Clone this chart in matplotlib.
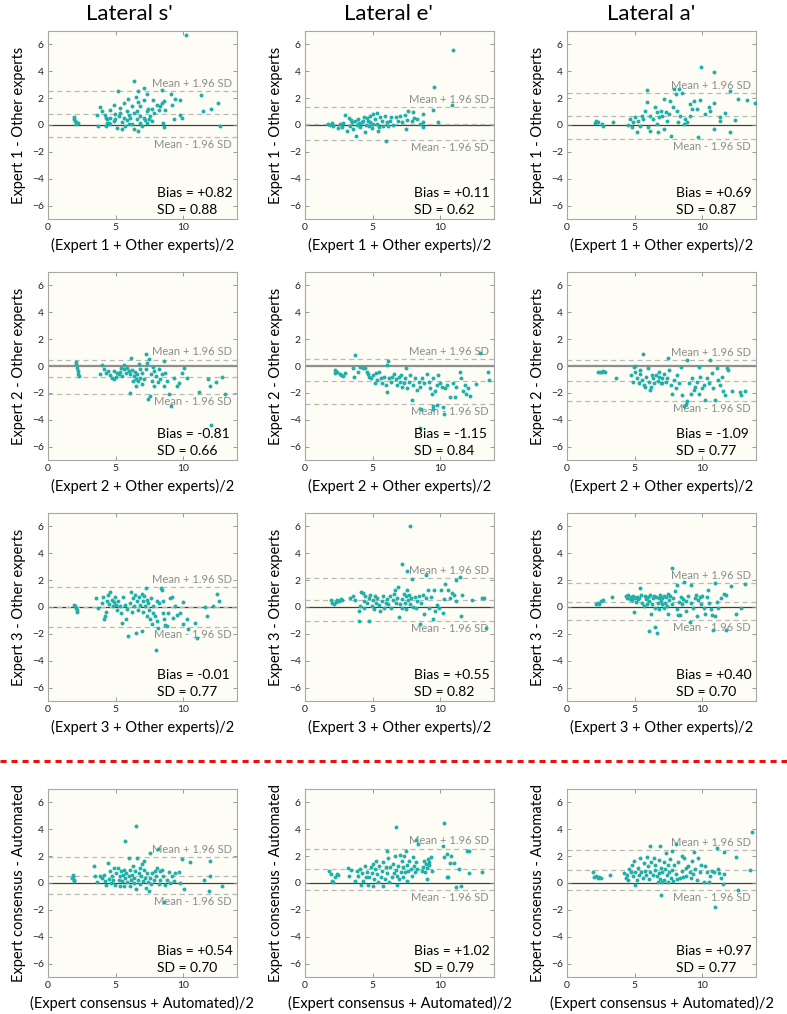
import numpy as np
import matplotlib
matplotlib.use("Agg")
import matplotlib.pyplot as plt
from matplotlib.lines import Line2D

plt.rcParams['font.family'] = ['Lato', 'DejaVu Sans']

# column / row labels
col_titles = ["Lateral s'", "Lateral e'", "Lateral a'"]
row_names = ["Expert 1", "Expert 2", "Expert 3", "Expert consensus"]
row_refs = ["Other experts", "Other experts", "Other experts", "Automated"]

# bias and SD per panel (rows x cols)
bias = [[0.82, 0.11, 0.69],
        [-0.81, -1.15, -1.09],
        [-0.01, 0.55, 0.40],
        [0.54, 1.02, 0.97]]
sdev = [[0.88, 0.62, 0.87],
        [0.66, 0.84, 0.77],
        [0.77, 0.82, 0.70],
        [0.70, 0.79, 0.77]]

# (mean, difference) points
e1_s = [(10.25, 6.68), (1.9, 0.6), (1.95, 0.45), (2.0, 0.3), (2.05, 0.1), (2.1, 0.2), (2.2, 0.15),
        (6.35, 3.29), (5.16, 2.55), (6.69, 2.55), (7.09, 2.75), (8.44, 2.57), (9.11, 2.33), (9.43, 1.96),
        (9.8, 1.84), (9.19, 1.51), (11.33, 2.23), (11.48, 1.02), (12.07, 1.2), (12.57, 1.61), (12.77, -0.11),
        (9.93, 0.53), (9.8, 0.78), (9.31, 0.41), (8.57, -0.16), (8.52, 0.16), (5.95, 1.93), (6.54, 2.1),
        (7.33, 2.28), (7.75, 1.88), (7.73, 1.2), (7.83, 0.9), (8.2, 1.15), (8.32, 1.39), (8.44, 1.64),
        (8.57, 1.76), (8.69, 1.15), (8.07, 1.51), (7.43, 1.2), (6.84, 1.39), (7.14, 1.88), (6.22, 1.44),
        (6.59, 1.02), (3.88, 1.34), (3.63, 0.78), (3.68, -0.04), (4.0, 1.02), (4.25, 0.78), (4.37, 0.41),
        (4.49, 0.16), (4.62, 0.53), (4.86, 0.28), (4.99, 0.85), (5.23, 0.65), (5.36, 0.9), (5.48, 0.21),
        (5.6, 0.53), (5.73, -0.09), (5.85, 0.36), (5.98, 0.78), (6.1, 0.53), (6.22, 0.11), (6.35, -0.28),
        (6.59, 0.41), (6.64, -0.46), (6.79, 0.65), (6.84, 0.16), (6.96, -0.09), (7.09, 0.53), (7.21, 0.36),
        (7.33, 0.16), (7.46, 0.41), (7.58, 0.65), (7.7, 0.28), (4.86, 1.51), (5.31, 1.27), (5.65, 1.64),
        (5.85, 1.02), (4.62, 1.14), (4.32, 0.53), (5.11, -0.21), (5.51, -0.28), (5.98, 0.04), (4.37, 0.16),
        (4.27, -0.04), (4.62, 0.11), (4.99, 0.41), (6.4, 0.9), (6.64, 1.69), (7.33, 1.02)]

e1_e = [(10.99, 5.55), (9.56, 2.81), (9.46, 1.12), (10.86, 1.52), (9.88, 0.2), (8.72, 0.25), (8.77, 0.82),
        (8.77, -0.12), (7.98, 0.95), (8.07, 0.52), (7.9, 0.27), (7.41, 0.77), (7.53, 0.37), (7.65, 1.02),
        (7.48, -0.3), (7.04, 0.7), (6.91, 0.27), (6.74, 0.57), (6.54, 0.02), (6.3, 0.32), (6.17, -0.05),
        (6.0, -1.17), (5.36, 0.9), (5.56, 0.62), (5.68, 0.32), (5.8, -0.05), (5.19, 0.45), (5.06, 0.07),
        (4.94, -0.22), (4.81, 0.7), (4.69, 0.32), (4.52, 0.02), (4.44, -0.55), (4.37, 0.57), (4.2, 0.2),
        (4.07, -0.17), (3.95, 0.45), (3.83, 0.02), (3.78, -0.8), (3.7, 0.32), (3.58, -0.3), (3.46, 0.2),
        (3.33, -0.05), (3.23, 0.52), (3.14, -0.42), (2.96, 0.77), (2.84, 0.12), (2.72, -0.12), (2.59, 0.07),
        (2.47, -0.22), (2.05, -0.05), (1.85, 0.02), (1.73, 0.07), (1.98, 0.12), (5.31, 0.07), (5.43, -0.42),
        (5.93, 0.7), (6.35, 0.62), (4.81, 0.2), (4.57, 0.52), (4.27, 0.32), (5.06, 0.82), (6.05, 0.2),
        (7.16, 0.2), (8.27, 0.45), (8.52, 0.07), (3.38, 0.37), (4.02, 0.12), (5.51, -0.17), (4.77, -0.05)]

e1_a = [(9.95, 4.3), (10.92, 3.98), (12.11, 2.56), (12.66, 1.94), (13.3, 1.87), (13.9, 1.62), (12.48, 0.4),
        (12.11, -0.55), (11.74, 0.87), (11.36, 0.62), (11.36, 0.32), (10.87, 1.62), (10.5, 1.37), (10.25, 0.82),
        (10.62, 1.07), (10.87, -0.3), (9.7, -0.92), (9.63, 1.19), (9.83, 1.87), (9.43, 1.82), (9.26, 1.19),
        (9.13, 0.7), (8.88, 0.2), (8.64, 0.07), (8.51, 2.36), (8.26, 2.69), (7.89, 2.69), (8.09, 2.31),
        (8.39, 0.7), (8.19, 0.2), (7.84, 1.32), (7.69, -0.8), (7.52, 0.82), (7.39, 0.32), (7.2, 1.94),
        (7.15, -0.3), (6.95, 1.07), (6.85, 0.57), (6.65, 0.07), (6.53, 1.32), (6.4, 0.45), (6.15, 0.7),
        (6.03, -0.12), (5.91, 2.61), (5.96, 1.69), (5.78, 1.07), (5.66, 0.45), (5.53, 0.7), (5.41, -0.05),
        (5.29, 0.32), (5.16, -0.55), (5.04, 0.57), (4.91, 0.2), (4.79, -0.17), (4.67, 0.45), (4.54, 0.02),
        (3.42, 0.2), (2.63, -0.05), (2.56, 0.07), (2.31, 0.2), (2.18, 0.27), (2.06, 0.12), (8.76, 0.45),
        (9.13, 1.57), (6.65, 0.95), (7.02, 0.7), (7.34, 0.95), (7.64, 1.82), (8.14, 1.07), (6.15, -0.42),
        (6.77, -0.55)]

e2_s = [(2.1, 0.3), (2.1, 0.12), (2.15, -0.12), (2.2, -0.37), (2.25, -0.62), (2.29, -0.75), (4.0, 0.05),
        (3.83, -0.62), (4.12, -0.25), (4.32, -0.55), (4.42, -0.37), (4.62, -0.7), (4.74, -0.87), (4.91, -1.0),
        (5.06, -0.8), (5.23, -0.62), (5.36, -0.45), (5.48, -0.75), (5.6, -0.25), (5.65, 0.05), (5.8, -0.55),
        (5.98, -0.37), (6.1, -0.62), (6.22, -0.3), (6.35, -0.75), (6.47, -0.45), (6.59, -0.62), (6.72, 0.12),
        (6.05, -2.0), (6.15, 0.57), (6.49, -1.5), (6.64, -1.12), (6.79, -0.87), (6.96, -0.55), (7.09, -0.95),
        (7.23, 0.9), (7.33, 0.25), (7.46, 0.5), (7.38, -2.45), (7.53, -2.25), (7.63, -0.62), (7.7, -1.12),
        (7.83, -1.5), (7.88, -0.37), (8.02, -0.75), (8.12, -1.2), (8.27, -1.0), (8.44, -0.62), (8.57, -1.5),
        (8.62, 0.37), (8.69, -0.5), (8.81, -1.12), (8.94, -2.12), (9.11, -3.0), (9.31, -0.87), (9.56, -1.5),
        (9.68, -1.25), (9.93, -0.5), (10.1, -0.12), (10.3, -0.87), (11.16, -1.95), (11.83, -0.95),
        (11.98, -1.5), (12.07, -4.37), (12.47, -1.2), (12.89, -0.82), (13.14, -2.05), (6.96, -1.37),
        (5.85, -0.12), (5.11, -0.5), (7.28, -0.25), (8.2, -0.25), (7.78, -0.05), (6.54, -0.95), (6.3, -1.12),
        (6.84, -0.25), (5.41, -0.17), (4.86, -0.37)]

e2_e = [(3.73, 0.82), (6.15, 0.37), (6.1, 0.07), (2.2, -0.3), (2.25, -0.55), (2.4, -0.42), (2.56, -0.62),
        (2.68, -0.67), (2.8, -0.72), (2.93, -0.55), (3.54, -0.12), (3.66, -0.8), (3.9, -0.42), (4.1, -0.05),
        (4.27, -0.17), (4.44, -0.12), (4.59, -0.42), (4.76, -0.8), (4.63, -0.62), (4.88, -0.92), (5.0, -0.67),
        (5.17, -1.3), (5.24, -0.55), (5.37, -1.05), (5.49, -0.42), (5.61, -0.92), (5.73, -1.3), (5.85, -0.8),
        (5.98, -1.42), (6.1, -1.92), (6.22, -0.87), (6.34, -1.17), (6.46, -0.8), (6.59, -0.62), (6.71, -0.97),
        (6.83, -1.42), (6.95, -0.8), (7.07, -1.17), (7.12, -0.67), (7.2, -1.55), (7.32, -1.3), (7.44, -0.92),
        (7.51, -0.12), (7.56, -1.67), (7.68, -1.17), (7.8, -0.67), (7.93, -2.55), (8.0, -1.42), (8.17, -0.92),
        (8.29, -1.8), (8.41, -1.17), (8.54, -1.55), (8.59, -3.17), (8.66, -0.92), (8.78, -1.3), (9.02, -0.62),
        (9.15, -1.17), (9.27, -1.67), (9.39, -2.05), (9.46, -2.97), (9.51, -0.92), (9.63, -1.87), (9.76, -1.42),
        (9.8, -2.92), (9.88, -0.67), (10.0, -1.3), (10.12, -1.55), (10.24, -3.05), (10.29, -3.55),
        (10.37, -1.67), (10.49, -1.42), (10.73, -2.3), (10.98, -1.3), (11.1, -2.3), (11.22, -1.55),
        (11.46, -0.47), (11.59, -0.92), (11.71, -1.87), (11.83, -1.42), (11.95, -2.12), (12.07, -1.67),
        (12.2, -2.25), (12.68, -1.37), (13.54, -0.47), (13.61, -1.05), (12.93, 0.95), (8.49, -4.62),
        (9.51, -3.17)]

e2_a = [(2.32, -0.47), (2.44, -0.42), (2.56, -0.42), (2.68, -0.37), (2.8, -0.47), (3.61, -0.87), (5.66, 0.87),
        (4.93, -0.05), (5.07, 0.0), (4.76, -0.67), (4.88, -1.17), (5.0, -0.47), (5.17, -0.92), (5.32, -1.3),
        (5.41, -0.62), (5.56, -1.05), (5.73, -1.42), (5.85, -0.8), (5.98, -0.17), (6.05, -1.17), (6.15, -1.8),
        (6.22, -1.55), (6.34, -0.92), (6.46, -1.3), (6.59, -0.67), (6.71, -1.12), (6.83, -0.8), (6.95, -1.3),
        (7.07, -0.92), (7.2, -0.62), (7.32, -1.17), (7.44, -0.92), (7.51, 0.57), (7.56, -0.3), (7.68, -1.42),
        (7.8, -2.05), (7.93, -1.05), (8.05, -1.67), (8.17, -0.67), (8.29, -1.3), (8.41, -0.05), (8.54, -2.17),
        (8.66, -2.97), (8.78, -2.8), (8.9, -2.62), (8.9, 0.45), (9.02, -1.3), (9.15, -2.12), (9.27, -0.92),
        (9.39, -1.8), (9.51, -1.55), (9.63, -1.17), (9.76, -2.05), (9.8, -0.05), (9.88, -0.8), (10.0, -1.67),
        (10.12, -1.42), (10.24, -2.55), (10.37, -0.92), (10.49, -1.3), (10.61, 0.45), (10.73, -0.55),
        (10.85, -1.67), (10.98, -2.55), (11.1, -0.17), (11.22, -1.05), (11.34, -1.42), (11.46, -0.8),
        (11.59, -1.87), (11.71, -2.17), (11.83, -0.17), (11.95, -0.3), (12.2, -1.87), (12.8, -1.97),
        (12.88, -2.17), (13.17, -1.87), (5.8, -1.55), (6.29, -0.67), (7.07, -1.3), (6.78, -0.47), (5.41, -0.3)]

e3_s = [(1.93, 0.17), (2.0, 0.1), (2.07, -0.07), (2.12, -0.25), (2.17, -0.39), (3.56, 0.66), (3.73, -0.07),
        (3.98, 0.29), (4.1, 0.74), (4.15, -0.93), (4.22, -0.69), (4.3, -0.39), (4.35, 0.42), (4.47, 0.91),
        (4.54, 0.25), (4.59, 1.08), (4.72, 0.54), (4.79, 0.05), (4.89, 0.34), (4.96, 0.78), (5.04, 0.17),
        (5.14, -0.2), (5.21, 0.42), (5.33, 0.05), (5.38, -0.44), (5.46, -1.18), (5.58, 0.78), (5.7, 0.17),
        (5.78, -0.93), (5.88, -0.15), (5.95, -2.16), (6.07, 0.29), (6.12, 1.08), (6.2, -0.39), (6.27, 0.66),
        (6.37, 0.05), (6.44, 0.91), (6.52, -1.91), (6.57, 0.42), (6.69, -0.2), (6.77, 0.74), (6.81, 0.17),
        (6.94, 0.98), (6.94, -1.79), (7.01, 0.42), (7.06, -0.39), (7.11, 0.83), (7.19, 0.05), (7.26, 1.4),
        (7.31, -0.69), (7.36, 0.54), (7.43, 0.29), (7.51, -0.2), (7.56, -0.93), (7.6, 0.66), (7.68, -1.3),
        (7.75, 0.1), (7.8, -0.44), (7.93, -0.69), (8.0, -3.19), (8.05, 0.42), (8.1, -1.05), (8.17, -1.54),
        (8.25, 0.29), (8.35, 1.4), (8.42, 1.27), (8.49, -0.44), (8.54, 0.42), (8.59, -0.93), (8.67, -1.37),
        (8.79, -1.42), (8.91, -0.44), (9.04, 0.66), (9.16, 0.74), (9.28, -0.81), (9.41, 0.05), (9.53, -0.56),
        (9.78, -0.44), (9.98, -1.3), (10.02, 0.34), (10.27, -0.93), (10.4, -1.62), (10.89, -1.18),
        (11.06, -2.28), (11.63, 0.0), (11.75, -0.69), (12.2, 0.1), (12.54, 0.98), (12.69, 0.42)]

e3_e = [(7.76, 6.03), (7.22, 3.19), (7.56, 2.65), (7.95, 2.11), (8.93, 2.4), (11.17, 2.03), (11.49, 2.21),
        (1.9, 0.49), (2.02, 0.32), (2.15, 0.2), (2.27, 0.39), (2.39, 0.49), (2.51, 0.44), (2.63, 0.56),
        (2.76, 0.49), (3.37, 0.64), (3.56, 0.81), (3.73, 0.49), (3.98, -0.29), (3.98, -1.03), (4.05, 0.07),
        (4.15, 1.13), (4.29, 1.05), (4.34, 0.44), (4.39, -0.05), (4.46, 0.81), (4.59, 0.32), (4.71, -1.03),
        (4.71, 0.64), (4.83, 0.88), (4.95, 0.07), (5.02, 0.49), (5.12, -0.17), (5.2, 0.81), (5.27, 0.32),
        (5.37, 0.69), (5.51, 0.15), (5.56, -0.29), (5.68, 0.44), (5.76, 0.81), (5.85, -0.05), (6.0, 0.32),
        (6.1, 0.56), (6.17, 0.2), (6.29, 0.81), (6.34, -0.05), (6.49, 0.49), (6.59, 0.98), (6.66, 1.3),
        (6.73, 0.32), (6.83, 0.69), (6.9, 1.47), (6.98, -0.74), (7.02, 0.2), (7.15, -0.05), (7.22, 0.56),
        (7.32, 0.98), (7.39, 0.32), (7.46, 0.81), (7.51, -0.17), (7.56, 1.23), (7.63, 0.49), (7.71, 0.93),
        (7.8, 0.2), (7.88, 0.64), (8.0, 0.0), (8.12, 0.74), (8.24, -0.05), (8.29, 0.44), (8.44, 0.81),
        (8.54, -1.23), (8.61, 0.32), (8.73, 0.88), (8.85, -0.54), (8.98, 0.64), (9.1, 1.3), (9.22, -0.05),
        (9.34, 0.74), (9.46, -0.91), (9.59, 1.3), (9.66, -0.29), (9.76, 0.15), (9.9, -0.05), (10.07, 1.23),
        (10.2, -0.42), (10.32, 0.56), (10.39, 1.72), (10.56, 1.3), (10.73, 0.69), (10.88, 1.05), (11.05, 0.88),
        (11.17, 0.44), (11.54, -0.66), (11.61, 0.88), (12.34, 0.49), (13.12, 0.64), (13.24, 0.69),
        (13.41, -1.57)]

e3_a = [(2.15, 0.2), (2.27, 0.32), (2.39, 0.25), (2.51, 0.42), (2.63, 0.49), (3.32, 0.74), (4.34, 0.81),
        (4.46, 0.64), (4.54, 0.88), (4.63, 0.56), (4.71, 0.74), (4.78, 0.49), (4.88, 0.81), (4.95, -0.34),
        (5.02, 0.64), (5.12, 0.39), (5.2, 0.74), (5.27, 0.56), (5.37, 0.69), (5.44, 1.42), (5.51, 0.88),
        (5.56, 0.32), (5.68, 0.07), (5.76, 0.81), (5.85, 0.56), (5.93, 0.2), (6.0, 0.74), (6.05, -1.81),
        (6.1, 0.44), (6.17, 0.88), (6.24, -0.49), (6.29, 0.2), (6.34, 0.64), (6.41, 0.81), (6.49, -1.47),
        (6.54, -0.05), (6.59, 0.74), (6.66, -1.96), (6.73, 0.32), (6.78, 0.69), (6.83, -0.17), (6.9, 0.88),
        (6.98, 0.44), (7.02, 0.64), (7.07, 0.2), (7.15, 0.81), (7.22, -0.05), (7.27, 0.32), (7.32, 0.74),
        (7.39, 0.07), (7.46, 0.98), (7.51, -0.54), (7.56, 0.49), (7.63, 0.81), (7.76, 2.89), (7.8, 0.2),
        (7.88, 0.64), (8.0, 1.18), (8.12, 1.62), (8.12, -0.17), (8.2, -0.59), (8.29, 0.39), (8.37, -0.59),
        (8.44, 0.74), (8.54, 0.2), (8.61, 0.56), (8.68, 1.86), (8.78, -0.29), (8.85, 0.44), (8.93, 0.81),
        (9.1, -1.15), (9.17, 1.62), (9.22, 0.32), (9.34, -0.05), (9.46, 0.69), (9.59, 0.88), (9.66, -0.66),
        (9.71, 0.49), (9.83, 0.74), (9.9, 0.2), (10.0, 0.81), (10.15, -0.05), (10.24, -0.49), (10.39, 0.74),
        (10.44, 1.23), (10.49, 0.32), (10.63, -0.17), (10.73, -0.59), (10.8, -1.72), (10.93, 1.79),
        (10.98, -0.66), (11.12, 0.39), (11.22, -0.05), (11.41, 0.64), (11.66, 0.98), (11.78, 0.88),
        (11.78, -1.72), (12.15, 1.54), (12.51, -0.54), (12.88, -0.05), (13.17, 1.72)]

au_s = [(6.54, 4.22), (5.73, 3.14), (1.85, 0.63), (1.85, 0.45), (1.9, 0.25), (1.95, 0.13), (1.78, 0.38),
        (3.43, 1.26), (3.51, 0.55), (3.63, 0.05), (3.83, 0.5), (4.0, 0.38), (4.17, 0.63), (4.25, 0.13),
        (4.32, -0.13), (4.42, 1.46), (4.49, 0.3), (4.57, 0.88), (4.67, 0.0), (4.74, 0.55), (4.81, 0.25),
        (4.91, 1.13), (4.99, -0.13), (5.06, 0.75), (5.16, 1.13), (5.23, 0.25), (5.31, 0.5), (5.36, -0.2),
        (5.41, 0.88), (5.48, 0.13), (5.56, 0.63), (5.6, 1.0), (5.65, -0.25), (5.73, 0.38), (5.8, 0.75),
        (5.85, 0.05), (5.98, 1.88), (5.98, 0.5), (6.05, -0.2), (6.1, 0.95), (6.15, 0.25), (6.22, 0.63),
        (6.3, 1.26), (6.35, 0.0), (6.4, 0.38), (6.47, 0.88), (6.54, -0.45), (6.59, 1.88), (6.64, 0.25),
        (6.72, 0.75), (6.79, 1.13), (6.84, -0.05), (6.89, 0.55), (6.96, 1.38), (7.04, 0.13), (7.09, 1.0),
        (7.14, 1.63), (7.21, 0.38), (7.28, -0.38), (7.33, 0.75), (7.41, 0.05), (7.46, -0.63), (7.53, 2.26),
        (7.58, 0.38), (7.63, -0.05), (7.7, 0.75), (7.83, 0.25), (7.95, 0.88), (8.02, 0.55), (8.07, 1.13),
        (8.12, 2.56), (8.2, -0.05), (8.27, 0.88), (8.32, 0.25), (8.44, 1.0), (8.52, 0.5), (8.57, -1.38),
        (8.69, -0.13), (8.81, 0.25), (8.94, 0.8), (9.06, 0.0), (9.19, 0.55), (9.31, 0.13), (9.43, 0.75),
        (9.68, 0.8), (9.8, 0.0), (9.93, 1.81), (10.05, -0.45), (10.54, 1.56), (11.58, 0.25), (11.9, -0.63),
        (11.98, 1.63), (12.02, 0.5), (12.89, -0.25)]

au_e = [(6.74, 4.2), (10.3, 4.45), (8.22, 3.21), (8.4, 2.91), (6.05, 2.41), (10.2, 2.79), (12.02, 2.41),
        (12.17, 2.41), (12.17, 0.72), (13.09, 0.8), (10.49, 2.16), (10.79, 2.04), (10.3, 1.92), (10.74, 1.47),
        (11.04, 1.47), (11.43, 1.04), (11.19, -0.32), (11.53, -0.22), (10.54, 0.42), (10.62, 0.47),
        (1.8, 0.87), (1.9, 0.67), (1.98, 0.12), (2.1, 0.05), (2.22, 0.47), (2.35, 0.67), (2.47, 0.62),
        (3.21, 1.12), (3.28, 0.55), (3.38, 0.97), (3.7, 0.17), (3.83, 0.87), (3.95, 0.55), (4.07, 1.04),
        (4.12, -0.12), (4.2, 0.72), (4.32, 0.17), (4.44, 1.29), (4.52, 0.47), (4.62, 0.8), (4.69, -0.12),
        (4.77, 0.42), (4.86, 1.17), (4.94, 0.72), (5.01, 1.42), (5.06, -0.2), (5.11, 0.3), (5.19, 1.04),
        (5.26, 1.67), (5.36, 0.67), (5.43, 0.05), (5.51, 1.29), (5.6, 0.42), (5.68, 0.92), (5.75, -0.2),
        (5.8, 1.54), (5.93, 0.3), (6.0, 1.17), (6.1, 0.72), (6.17, 1.87), (6.25, 0.05), (6.3, 1.17),
        (6.42, 0.47), (6.49, 1.42), (6.59, 0.72), (6.67, 2.04), (6.74, 0.97), (6.79, -0.12), (6.84, 0.55),
        (6.91, 1.29), (6.99, 0.3), (7.04, 2.11), (7.09, 0.8), (7.16, 1.67), (7.23, 1.17), (7.28, 0.42),
        (7.33, 2.04), (7.41, 0.8), (7.48, 2.41), (7.53, 1.37), (7.58, 0.17), (7.65, 0.92), (7.73, 1.67),
        (7.83, 1.04), (7.9, 0.55), (7.98, 1.92), (8.07, 1.29), (8.15, 0.8), (8.22, 1.54), (8.32, 1.04),
        (8.64, 0.92), (8.72, 1.17), (8.81, 1.67), (8.89, 0.8), (8.96, 1.42), (9.01, 0.3), (9.06, 1.12),
        (9.14, 1.79), (9.21, 1.37), (9.31, 1.92), (9.38, 0.87), (9.21, 1.54)]

au_a = [(13.73, 3.8), (11.12, 2.62), (11.66, 2.33), (12.51, 1.96), (13.56, 0.98), (12.63, -0.49),
        (10.93, -1.79), (6.93, -0.91), (6.17, 2.75), (6.9, 2.75), (8.05, 2.87), (1.9, 0.8), (2.02, 0.42),
        (2.15, 0.49), (2.27, 0.37), (2.39, 0.42), (2.51, 0.37), (3.17, 0.61), (4.22, 0.74), (4.34, 0.37),
        (4.46, 0.61), (4.54, 0.25), (4.59, 1.05), (4.71, 0.81), (4.78, 1.35), (4.88, 0.49), (4.95, 1.64),
        (5.02, -0.17), (5.07, 0.81), (5.2, 0.25), (5.27, 1.15), (5.37, 0.61), (5.44, 1.89), (5.51, 0.81),
        (5.61, 0.37), (5.68, 1.47), (5.76, 0.91), (5.85, 0.61), (5.93, 1.96), (6.0, 1.23), (6.1, 0.32),
        (6.17, 0.81), (6.24, 1.59), (6.34, 0.61), (6.41, 1.89), (6.49, 0.98), (6.54, 1.35), (6.66, 0.49),
        (6.73, 0.07), (6.78, 1.72), (6.83, 0.74), (6.9, 0.32), (6.98, 1.15), (7.02, 0.07), (7.07, 0.81),
        (7.15, 1.59), (7.22, 0.25), (7.27, 1.05), (7.32, 2.21), (7.39, 0.56), (7.46, 0.07), (7.51, 1.35),
        (7.56, 0.81), (7.63, 1.79), (7.71, 0.37), (7.76, 2.38), (7.8, 0.98), (7.88, 0.12), (7.95, 1.35),
        (8.05, 0.66), (8.12, 0.32), (8.2, 1.54), (8.37, 0.37), (8.49, 2.03), (8.54, 0.91), (8.61, 0.42),
        (8.68, 1.84), (8.78, 1.15), (8.85, 0.49), (8.98, 1.3), (9.1, 0.81), (9.17, 0.37), (9.27, 1.64),
        (9.34, 0.66), (9.41, 2.33), (9.51, 1.05), (9.66, 0.25), (9.71, 1.89), (9.83, 0.81), (9.95, 1.35),
        (10.15, 0.07), (10.24, 1.3), (10.39, 0.81), (10.49, 0.07), (10.56, 0.49), (10.73, 0.91),
        (10.88, 0.81), (11.17, 1.05), (11.29, 0.74), (11.41, 0.37), (11.54, -0.07), (11.61, 0.66)]

panels = [[e1_s, e1_e, e1_a],
          [e2_s, e2_e, e2_a],
          [e3_s, e3_e, e3_a],
          [au_s, au_e, au_a]]

# layout in pixels of the reference
W, H = 787, 1014
col_left = [48, 305, 567]
row_top = [31, 272, 513, 789]
AW, AH = 189, 188
title_x = [129, 388, 651]

fig = plt.figure(figsize=(W / 100, H / 100), dpi=100)

dot_color = '#1fb0aa'
dash_color = '#b9b9b9'
note_color = '#8c8c8c'

for r in range(4):
    for c in range(3):
        ax = fig.add_axes([col_left[c] / W, 1 - (row_top[r] + AH) / H, AW / W, AH / H])
        ax.set_facecolor('#fdfdf5')
        b, sd = bias[r][c], sdev[r][c]
        up, lo = b + 1.96 * sd, b - 1.96 * sd

        if r == 1:
            ax.axhline(0, color='#8f8f8f', lw=1.6, zorder=1)
        else:
            ax.axhline(0, color='#404040', lw=0.9, zorder=1)
        for yv in (up, b, lo):
            ax.axhline(yv, color=dash_color, lw=0.9, ls=(0, (4, 3)), zorder=1)

        ax.annotate('Mean + 1.96 SD', xy=(13.6, up), xytext=(0, 1.5), textcoords='offset points',
                    ha='right', va='bottom', fontsize=8, color=note_color, zorder=2)
        ax.annotate('Mean - 1.96 SD', xy=(13.6, lo), xytext=(0, -1.5), textcoords='offset points',
                    ha='right', va='top', fontsize=8, color=note_color, zorder=2)

        pts = np.array(panels[r][c])
        ax.scatter(pts[:, 0], pts[:, 1], s=8, color=dot_color, linewidths=0, zorder=3)

        ax.text(0.575, 0.138, 'Bias = {:+.2f}'.format(b),
                transform=ax.transAxes, ha='left', va='center', fontsize=10, color='black')
        ax.text(0.575, 0.048, 'SD = {:.2f}'.format(sd),
                transform=ax.transAxes, ha='left', va='center', fontsize=10, color='black')

        ax.set_xlim(0, 14)
        ax.set_ylim(-7, 7)
        ax.set_xticks([0, 5, 10])
        ax.set_yticks([-6, -4, -2, 0, 2, 4, 6])
        ax.tick_params(direction='in', length=3, width=0.6, color='#8a8a8a', labelsize=7.5,
                       labelcolor='#222222', top=True, right=True, pad=3)
        for sp in ax.spines.values():
            sp.set_color('#a8a8a8')
            sp.set_linewidth(0.8)

        ax.set_ylabel('{} - {}'.format(row_names[r], row_refs[r]), fontsize=10.5)
        ax.yaxis.set_label_coords(-0.115, 0.5)
        ax.set_xlabel('({} + {})/2'.format(row_names[r], row_refs[r]), fontsize=10.5)
        ax.xaxis.set_label_coords(0.5, -0.1)

for c in range(3):
    fig.text(title_x[c] / W, 1 - 14 / H, col_titles[c], ha='center', va='center', fontsize=16)

# red separator between expert rows and automated row
sep_y = 1 - 761 / H
fig.add_artist(Line2D([0, 1], [sep_y, sep_y], transform=fig.transFigure,
                      color='#e8120c', lw=2.2, ls=(0, (2, 1.6))))

fig.savefig('out.png', dpi=100)
